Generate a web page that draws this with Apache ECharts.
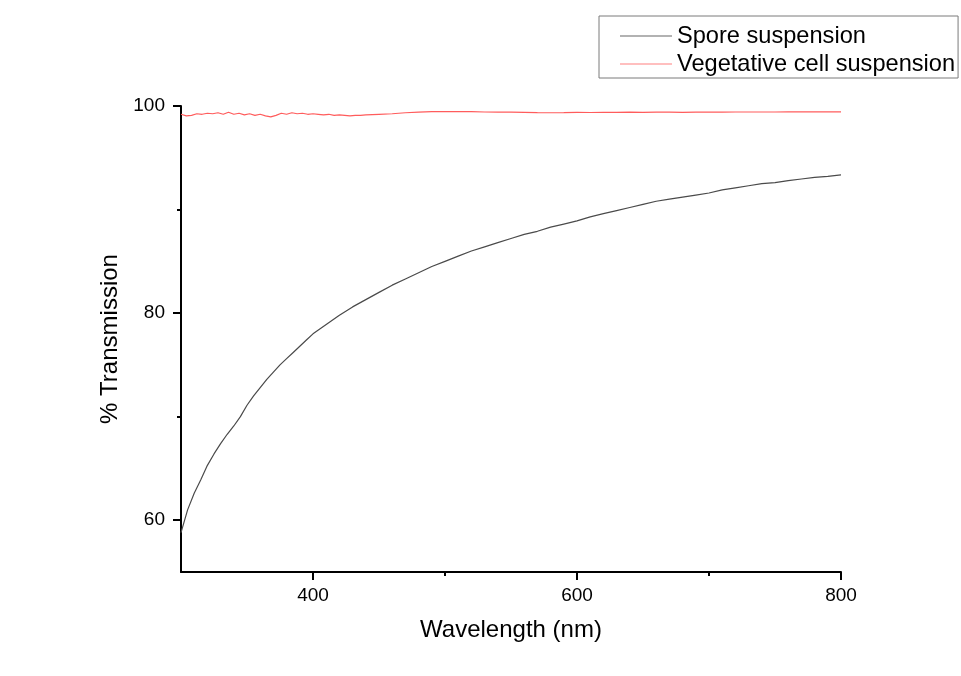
<!DOCTYPE html>
<html>
<head>
<meta charset="utf-8">
<title>% Transmission vs Wavelength</title>
<script src="https://cdn.jsdelivr.net/npm/echarts@6/dist/echarts.min.js"></script>
<style>
  html, body { margin: 0; padding: 0; background: #ffffff; }
  #chart { width: 961px; height: 676px; }
</style>
</head>
<body>
<div id="chart"></div>
<script>
// Spore suspension spectrum
const sporeWavelength = [
  300, 305, 310, 315, 320, 325, 330, 335, 340, 345, 350, 355, 360, 365, 370, 375,
  380, 385, 390, 395, 400, 410, 420, 430, 440, 450, 460, 470, 480, 490, 500, 510,
  520, 530, 540, 550, 560, 570, 580, 590, 600, 610, 620, 630, 640, 650, 660, 670,
  680, 690, 700, 710, 720, 730, 740, 750, 760, 770, 780, 790, 800
];
const sporeTransmission = [
  58.8, 61.0, 62.6, 63.9, 65.3, 66.4, 67.4, 68.3, 69.1, 70.0, 71.1, 72.0, 72.8, 73.6, 74.3, 75.0,
  75.6, 76.2, 76.8, 77.4, 78.0, 78.9, 79.8, 80.6, 81.3, 82.0, 82.7, 83.3, 83.9, 84.5, 85.0, 85.5,
  86.0, 86.4, 86.8, 87.2, 87.6, 87.9, 88.3, 88.6, 88.9, 89.3, 89.6, 89.9, 90.2, 90.5, 90.8, 91.0,
  91.2, 91.4, 91.6, 91.9, 92.1, 92.3, 92.5, 92.6, 92.8, 92.95, 93.1, 93.2, 93.35
];

// Vegetative cell suspension spectrum
const vegWavelength = [
  300, 304, 308, 312, 316, 320, 324, 328, 332, 336, 340, 344, 348, 352, 356, 360,
  364, 368, 372, 376, 380, 384, 388, 392, 396, 400, 404, 408, 412, 416, 420, 424,
  428, 432, 436, 440, 450, 460, 470, 480, 490, 500, 510, 520, 530, 540, 550, 560,
  570, 580, 590, 600, 610, 620, 630, 640, 650, 660, 670, 680, 690, 700, 710, 720,
  730, 740, 750, 760, 770, 780, 790, 800
];
const vegTransmission = [
  99.2, 99.05, 99.1, 99.25, 99.2, 99.3, 99.25, 99.35, 99.2, 99.4, 99.2, 99.3, 99.15, 99.25, 99.1, 99.2,
  99.05, 98.95, 99.1, 99.3, 99.2, 99.35, 99.25, 99.3, 99.2, 99.25, 99.2, 99.15, 99.2, 99.1, 99.15, 99.1,
  99.05, 99.1, 99.1, 99.15, 99.2, 99.25, 99.35, 99.4, 99.45, 99.45, 99.45, 99.45, 99.42, 99.4, 99.4, 99.38,
  99.36, 99.35, 99.36, 99.38, 99.37, 99.38, 99.38, 99.4, 99.38, 99.4, 99.4, 99.38, 99.4, 99.4, 99.4, 99.42,
  99.42, 99.42, 99.42, 99.43, 99.43, 99.43, 99.43, 99.43
];

// Axis ticks
const xMajorTicks = [400, 600, 800];
const xMinorTicks = [500, 700];
const yMajorTicks = [60, 80, 100];
const yMinorTicks = [70, 90];

const seriesNames = ['Spore suspension', 'Vegetative cell suspension'];

const pairs = (xs, ys) => xs.map((x, i) => [x, ys[i]]);

const FONT = '"Liberation Sans", Arial, sans-serif';
const chart = echarts.init(document.getElementById('chart'), null, { renderer: 'canvas' });

const baseX = { type: 'value', min: 300, max: 800, interval: 100, splitLine: { show: false } };
const baseY = { type: 'value', min: 55, max: 100, interval: 5, splitLine: { show: false } };

chart.setOption({
  backgroundColor: '#ffffff',
  animation: false,
  grid: { left: 181, right: 120, top: 106, bottom: 104 },
  legend: {
    orient: 'vertical',
    left: 599,
    top: 16,
    padding: [6, 3, 0, 21],
    itemGap: 0,
    itemWidth: 52,
    itemHeight: 1.2,
    icon: 'rect',
    borderColor: '#7a7a7a',
    borderWidth: 1,
    borderRadius: 0,
    data: seriesNames,
    textStyle: { fontFamily: FONT, fontSize: 23.6, color: '#000', lineHeight: 28 }
  },
  xAxis: [
    Object.assign({}, baseX, {
      name: 'Wavelength (nm)',
      nameLocation: 'middle',
      nameGap: 46,
      nameTextStyle: { fontFamily: FONT, fontSize: 24, color: '#000' },
      axisLine: { show: true, onZero: false, lineStyle: { color: '#000', width: 2 } },
      axisTick: { show: true, inside: false, length: 8, customValues: xMajorTicks, lineStyle: { color: '#000', width: 2 } },
      axisLabel: { customValues: xMajorTicks, margin: 14, fontFamily: FONT, fontSize: 19, color: '#000' }
    }),
    Object.assign({}, baseX, {
      position: 'bottom',
      axisLine: { show: false, onZero: false },
      axisTick: { show: true, inside: false, length: 4, customValues: xMinorTicks, lineStyle: { color: '#000', width: 2 } },
      axisLabel: { show: false }
    })
  ],
  yAxis: [
    Object.assign({}, baseY, {
      name: '% Transmission',
      nameLocation: 'middle',
      nameGap: 55,
      nameRotate: 90,
      nameTextStyle: { fontFamily: FONT, fontSize: 24, color: '#000' },
      axisLine: { show: true, onZero: false, lineStyle: { color: '#000', width: 2 } },
      axisTick: { show: true, inside: false, length: 8, customValues: yMajorTicks, lineStyle: { color: '#000', width: 2 } },
      axisLabel: { customValues: yMajorTicks, margin: 16, fontFamily: FONT, fontSize: 19, color: '#000' }
    }),
    Object.assign({}, baseY, {
      position: 'left',
      axisLine: { show: false, onZero: false },
      axisTick: { show: true, inside: false, length: 4, customValues: yMinorTicks, lineStyle: { color: '#000', width: 2 } },
      axisLabel: { show: false }
    })
  ],
  series: [
    {
      name: seriesNames[0],
      type: 'line',
      xAxisIndex: 0,
      yAxisIndex: 0,
      data: pairs(sporeWavelength, sporeTransmission),
      symbol: 'none',
      showSymbol: false,
      lineStyle: { color: '#4a4a4a', width: 1.2 },
      itemStyle: { color: '#666666' }
    },
    {
      name: seriesNames[1],
      type: 'line',
      xAxisIndex: 0,
      yAxisIndex: 0,
      data: pairs(vegWavelength, vegTransmission),
      symbol: 'none',
      showSymbol: false,
      lineStyle: { color: '#ff5c5c', width: 1.2 },
      itemStyle: { color: '#ff8080' }
    }
  ]
});
</script>
</body>
</html>
